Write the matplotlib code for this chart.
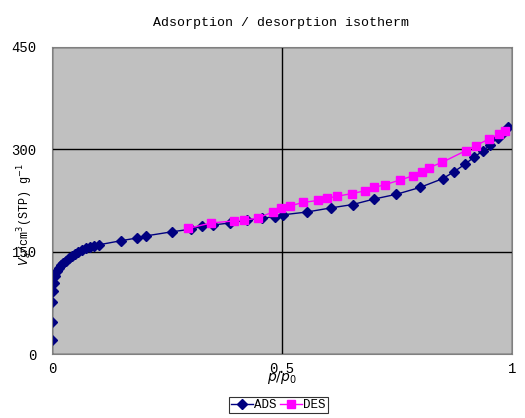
import numpy as np
import matplotlib
matplotlib.use('Agg')
import matplotlib.pyplot as plt

# adsorption branch (p/p0, volume)
ads_x = [0.0, 0.0005, 0.001, 0.002, 0.004, 0.006, 0.010, 0.015, 0.020, 0.025, 0.031,
         0.037, 0.043, 0.050, 0.057, 0.065, 0.074, 0.082, 0.091, 0.102,
         0.150, 0.185, 0.204, 0.260, 0.303, 0.326, 0.350, 0.387, 0.423, 0.456,
         0.485, 0.503, 0.554, 0.606, 0.654, 0.700, 0.749, 0.800, 0.850, 0.874,
         0.898, 0.917, 0.938, 0.952, 0.969, 0.980, 0.992]
ads_y = [20, 47, 76, 92, 104, 114, 122, 126, 130, 133, 136,
         141, 144, 147, 150, 152, 155, 157, 158, 160,
         166, 170, 173, 179, 183, 187, 189, 192, 196, 199,
         201, 204, 208, 214, 219, 227, 234, 244, 257, 267,
         278, 288, 298, 306, 317, 324, 333]

# desorption branch
des_x = [0.296, 0.346, 0.396, 0.417, 0.447, 0.480, 0.499, 0.517, 0.546, 0.578,
         0.597, 0.619, 0.652, 0.680, 0.700, 0.724, 0.757, 0.785, 0.804, 0.820,
         0.849, 0.900, 0.921, 0.950, 0.972, 0.985]
des_y = [184, 192, 195, 196, 199, 208, 214, 217, 222, 225,
         228, 231, 235, 239, 244, 248, 255, 261, 267, 273,
         281, 298, 305, 315, 322, 327]

fnt = 'Liberation Mono'

fig = plt.figure(figsize=(5.25, 4.18), dpi=100)
ax = fig.add_axes([0.099, 0.153, 0.876, 0.735])
ax.set_facecolor('#C0C0C0')

ax.plot(ads_x, ads_y, color='#000080', marker='D', ms=5, lw=1, label='ADS')
ax.plot(des_x, des_y, color='#FF00FF', marker='s', ms=5.2, lw=1, label='DES')

ax.set_xlim(0, 1)
ax.set_ylim(0, 450)
ax.set_xticks([0, 0.5, 1])
ax.set_xticklabels(['0', '0.5', '1'], family=fnt, fontsize=10)
ax.set_yticks([0, 150, 300, 450])
ax.set_yticklabels(['0', '150', '300', '450'], family=fnt, fontsize=10)
ax.tick_params(length=0)
ax.tick_params(axis='x', pad=6)
ax.tick_params(axis='y', pad=11)
ax.grid(True, color='black', lw=1)
ax.set_axisbelow(True)
for s in ax.spines.values():
    s.set_color('#808080')

ax.set_xlabel(r'$p/p_0$', fontsize=10, labelpad=-5)
ax.set_ylabel(r'$V_a$/cm$^3$(STP) g$^{-1}$', family=fnt, fontsize=8.5)
ax.yaxis.set_label_coords(-0.036, 0.455)

fig.text(0.535, 0.946, 'Adsorption / desorption isotherm', family=fnt, fontsize=9.5,
         ha='center', va='center')

leg = fig.legend(loc='center', bbox_to_anchor=(0.53, 0.031), ncol=2, frameon=True,
                 prop={'family': fnt, 'size': 9}, fancybox=False, handlelength=1.8,
                 handletextpad=0.1, columnspacing=0.2, borderpad=0.15)
leg.get_frame().set_edgecolor('black')
leg.get_frame().set_linewidth(0.8)

fig.savefig('out.png', dpi=100)
